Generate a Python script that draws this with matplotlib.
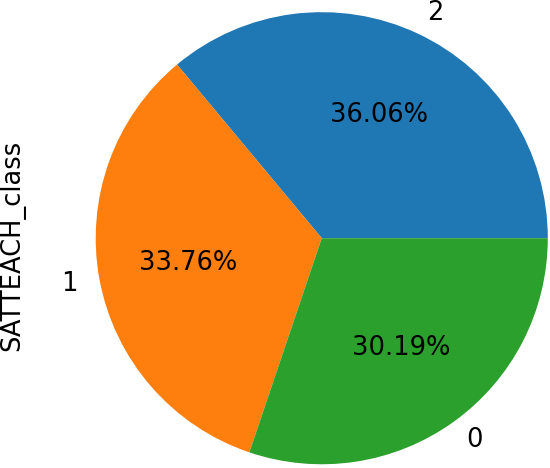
import matplotlib.pyplot as plt

# class shares (percent)
labels = ['2', '1', '0']
shares = [36.06, 33.76, 30.19]
colors = ['#1f77b4', '#ff7f0e', '#2ca02c']

fig = plt.figure(figsize=(5.5, 4.68), dpi=100)
ax = fig.add_axes([0.174, 0.008, 0.822, 0.966])
ax.pie(shares, labels=labels, colors=colors, autopct='%.2f%%',
       textprops={'fontsize': 18.5})
ax.set_xlim(-1.0, 1.0)
ax.set_ylim(-1.0, 1.0)
ax.set_aspect('equal')
ax.set_ylabel('SATTEACH_class', fontsize=18.5)
ax.yaxis.set_label_coords(-0.155, 0.485)

fig.savefig('out.png', dpi=100)
